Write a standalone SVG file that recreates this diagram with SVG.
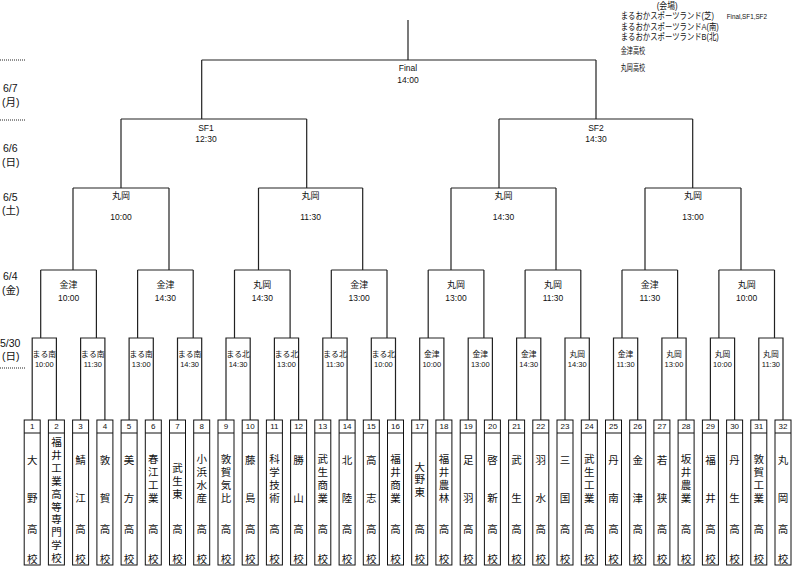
<svg xmlns="http://www.w3.org/2000/svg" width="800" height="577" viewBox="0 0 800 577">
<style>
text{font-family:"Liberation Sans","Noto Sans CJK JP",sans-serif;fill:#111;}
.c{text-anchor:middle;dominant-baseline:central;}
.nm{font-family:"Liberation Sans","Noto Sans CJK JP",sans-serif;font-size:10.5px;text-anchor:middle;dominant-baseline:central;}
.num{font-size:8px;text-anchor:middle;dominant-baseline:central;}
.v1{font-size:7.8px;}
.t1{font-size:7.5px;}
.v2{font-size:9px;}
.t2{font-size:8.5px;}
.date{font-size:10.5px;dominant-baseline:central;}
.leg{font-size:9px;dominant-baseline:central;}
.box{fill:#fff;stroke:#111;stroke-width:1;}
.sep{stroke:#111;stroke-width:1;}
.wire{fill:none;stroke:#222;stroke-width:1.2;}
.dot{stroke:#222;stroke-width:1;stroke-dasharray:1 1;}
</style>
<rect width="800" height="577" fill="#fff"/>

<g id="legend">
<text class="leg" transform="translate(656.7,5.5) scale(0.875,1)">(会場)</text>
<text class="leg" transform="translate(620.7,16) scale(0.82,1)">まるおかスポーツランド(芝)</text>
<text class="leg" x="726.7" y="16" style="font-size:6.3px">Final,SF1,SF2</text>
<text class="leg" transform="translate(620.7,27) scale(0.82,1)">まるおかスポーツランドA(南)</text>
<text class="leg" transform="translate(620.7,37.5) scale(0.82,1)">まるおかスポーツランドB(北)</text>
<text class="leg" transform="translate(620.7,51) scale(0.68,1)">金津高校</text>
<text class="leg" transform="translate(620.7,68.5) scale(0.68,1)">丸岡高校</text>
</g>

<g id="dates">
<line class="dot" x1="0" y1="60" x2="25" y2="60"/>
<line class="dot" x1="0" y1="120" x2="25" y2="120"/>
<line class="dot" x1="0" y1="368" x2="25" y2="368"/>
<text class="date" x="3" y="88">6/7</text>
<text class="date" x="2" y="102">(月)</text>
<text class="date" x="3" y="148">6/6</text>
<text class="date" x="2" y="162">(日)</text>
<text class="date" x="3" y="197">6/5</text>
<text class="date" x="2" y="209.5">(土)</text>
<text class="date" x="3" y="276">6/4</text>
<text class="date" x="2" y="289.5">(金)</text>
<text class="date" x="0" y="343">5/30</text>
<text class="date" x="2" y="356">(日)</text>
</g>

<g id="connectors">
<path class="wire" d="M32.2 420V338H56.4V420M40.7 338V270 M80.6 420V338H104.9V420M96.4 338V270 M129.1 420V338H153.3V420M137.6 338V270 M177.5 420V338H201.7V420M193.2 338V270 M226 420V338H250.2V420M234.5 338V270 M274.4 420V338H298.6V420M290.1 338V270 M322.8 420V338H347.1V420M331.3 338V270 M371.3 420V338H395.5V420M387 338V270 M419.7 420V338H443.9V420M428.2 338V270 M468.2 420V338H492.4V420M483.9 338V270 M516.6 420V338H540.8V420M525.1 338V270 M565 420V338H589.3V420M580.8 338V270 M613.5 420V338H637.7V420M622 338V270 M661.9 420V338H686.1V420M677.6 338V270 M710.4 420V338H734.6V420M718.9 338V270 M758.8 420V338H783V420M774.5 338V270"/>
<path class="wire" d="M40.7 270H96.4M73 270V188 M137.6 270H193.2M169 270V188 M234.5 270H290.1M258.5 270V188 M331.3 270H387M362.7 270V188 M428.2 270H483.9M451 270V188 M525.1 270H580.8M556 270V188 M622 270H677.6M645 270V188 M718.9 270H774.5M741 270V188"/>
<path class="wire" d="M73 188H169M121 188V119 M258.5 188H362.7M306.7 188V119 M451 188H556M499 188V119 M645 188H741M692.7 188V119"/>
<path class="wire" d="M121 119H306.7M201.7 119V60 M499 119H692.7M596 119V60 M201.7 60H596M408 60V20"/>
</g>

<g id="final"><text class="c t2" x="408" y="68">Final</text><text class="c t2" x="408" y="80">14:00</text></g>
<g id="sf1"><text class="c t2" x="206" y="128">SF1</text><text class="c t2" x="206" y="139">12:30</text></g>
<g id="sf2"><text class="c t2" x="596" y="127.5">SF2</text><text class="c t2" x="596" y="138.5">14:30</text></g>

<g id="r3-1"><text class="c v2" x="121" y="196">丸岡</text><text class="c t2" x="121" y="217">10:00</text></g>
<g id="r3-2"><text class="c v2" x="310.6" y="196">丸岡</text><text class="c t2" x="310.6" y="217">11:30</text></g>
<g id="r3-3"><text class="c v2" x="503.5" y="196">丸岡</text><text class="c t2" x="503.5" y="217">14:30</text></g>
<g id="r3-4"><text class="c v2" x="693" y="196">丸岡</text><text class="c t2" x="693" y="217">13:00</text></g>

<g id="r2-1"><text class="c v2" x="68.6" y="285">金津</text><text class="c t2" x="68.6" y="298">10:00</text></g>
<g id="r2-2"><text class="c v2" x="165.4" y="285">金津</text><text class="c t2" x="165.4" y="298">14:30</text></g>
<g id="r2-3"><text class="c v2" x="262.3" y="285">丸岡</text><text class="c t2" x="262.3" y="298">14:30</text></g>
<g id="r2-4"><text class="c v2" x="359.2" y="285">金津</text><text class="c t2" x="359.2" y="298">13:00</text></g>
<g id="r2-5"><text class="c v2" x="456" y="285">丸岡</text><text class="c t2" x="456" y="298">13:00</text></g>
<g id="r2-6"><text class="c v2" x="553" y="285">丸岡</text><text class="c t2" x="553" y="298">11:30</text></g>
<g id="r2-7"><text class="c v2" x="649.8" y="285">金津</text><text class="c t2" x="649.8" y="298">11:30</text></g>
<g id="r2-8"><text class="c v2" x="746.7" y="285">丸岡</text><text class="c t2" x="746.7" y="298">10:00</text></g>

<g id="r1-1"><text class="c v1" x="44.3" y="354">まる南</text><text class="c t1" x="44.3" y="364">10:00</text></g>
<g id="r1-2"><text class="c v1" x="92.8" y="354">まる南</text><text class="c t1" x="92.8" y="364">11:30</text></g>
<g id="r1-3"><text class="c v1" x="141.2" y="354">まる南</text><text class="c t1" x="141.2" y="364">13:00</text></g>
<g id="r1-4"><text class="c v1" x="189.6" y="354">まる南</text><text class="c t1" x="189.6" y="364">14:30</text></g>
<g id="r1-5"><text class="c v1" x="238.1" y="354">まる北</text><text class="c t1" x="238.1" y="364">14:30</text></g>
<g id="r1-6"><text class="c v1" x="286.5" y="354">まる北</text><text class="c t1" x="286.5" y="364">13:00</text></g>
<g id="r1-7"><text class="c v1" x="335" y="354">まる北</text><text class="c t1" x="335" y="364">11:30</text></g>
<g id="r1-8"><text class="c v1" x="383.4" y="354">まる北</text><text class="c t1" x="383.4" y="364">10:00</text></g>
<g id="r1-9"><text class="c v1" x="431.8" y="354">金津</text><text class="c t1" x="431.8" y="364">10:00</text></g>
<g id="r1-10"><text class="c v1" x="480.3" y="354">金津</text><text class="c t1" x="480.3" y="364">13:00</text></g>
<g id="r1-11"><text class="c v1" x="528.7" y="354">金津</text><text class="c t1" x="528.7" y="364">14:30</text></g>
<g id="r1-12"><text class="c v1" x="577.2" y="354">丸岡</text><text class="c t1" x="577.2" y="364">14:30</text></g>
<g id="r1-13"><text class="c v1" x="625.6" y="354">金津</text><text class="c t1" x="625.6" y="364">11:30</text></g>
<g id="r1-14"><text class="c v1" x="674" y="354">丸岡</text><text class="c t1" x="674" y="364">13:00</text></g>
<g id="r1-15"><text class="c v1" x="722.5" y="354">丸岡</text><text class="c t1" x="722.5" y="364">10:00</text></g>
<g id="r1-16"><text class="c v1" x="770.9" y="354">丸岡</text><text class="c t1" x="770.9" y="364">11:30</text></g>

<g id="team-1"><rect class="box" x="24.2" y="420" width="16" height="145"/><line class="sep" x1="24.2" y1="433" x2="40.2" y2="433"/><text class="num" x="32.2" y="426.5">1</text><text class="nm"><tspan x="32.2" y="460">大</tspan><tspan x="32.2" y="498">野</tspan><tspan x="32.2" y="529">高</tspan><tspan x="32.2" y="559">校</tspan></text></g>
<g id="team-2"><rect class="box" x="48.4" y="420" width="16" height="145"/><line class="sep" x1="48.4" y1="433" x2="64.4" y2="433"/><text class="num" x="56.4" y="426.5">2</text><text class="nm"><tspan x="56.4" y="442">福</tspan><tspan x="56.4" y="454.9">井</tspan><tspan x="56.4" y="467.8">工</tspan><tspan x="56.4" y="480.7">業</tspan><tspan x="56.4" y="493.6">高</tspan><tspan x="56.4" y="506.5">等</tspan><tspan x="56.4" y="519.4">専</tspan><tspan x="56.4" y="532.3">門</tspan><tspan x="56.4" y="545.2">学</tspan><tspan x="56.4" y="558.1">校</tspan></text></g>
<g id="team-3"><rect class="box" x="72.6" y="420" width="16" height="145"/><line class="sep" x1="72.6" y1="433" x2="88.6" y2="433"/><text class="num" x="80.6" y="426.5">3</text><text class="nm"><tspan x="80.6" y="460">鯖</tspan><tspan x="80.6" y="498">江</tspan><tspan x="80.6" y="529">高</tspan><tspan x="80.6" y="559">校</tspan></text></g>
<g id="team-4"><rect class="box" x="96.9" y="420" width="16" height="145"/><line class="sep" x1="96.9" y1="433" x2="112.9" y2="433"/><text class="num" x="104.9" y="426.5">4</text><text class="nm"><tspan x="104.9" y="460">敦</tspan><tspan x="104.9" y="498">賀</tspan><tspan x="104.9" y="529">高</tspan><tspan x="104.9" y="559">校</tspan></text></g>
<g id="team-5"><rect class="box" x="121.1" y="420" width="16" height="145"/><line class="sep" x1="121.1" y1="433" x2="137.1" y2="433"/><text class="num" x="129.1" y="426.5">5</text><text class="nm"><tspan x="129.1" y="460">美</tspan><tspan x="129.1" y="498">方</tspan><tspan x="129.1" y="529">高</tspan><tspan x="129.1" y="559">校</tspan></text></g>
<g id="team-6"><rect class="box" x="145.3" y="420" width="16" height="145"/><line class="sep" x1="145.3" y1="433" x2="161.3" y2="433"/><text class="num" x="153.3" y="426.5">6</text><text class="nm"><tspan x="153.3" y="459">春</tspan><tspan x="153.3" y="472">江</tspan><tspan x="153.3" y="485">工</tspan><tspan x="153.3" y="498">業</tspan><tspan x="153.3" y="529">高</tspan><tspan x="153.3" y="559">校</tspan></text></g>
<g id="team-7"><rect class="box" x="169.5" y="420" width="16" height="145"/><line class="sep" x1="169.5" y1="433" x2="185.5" y2="433"/><text class="num" x="177.5" y="426.5">7</text><text class="nm"><tspan x="177.5" y="467.5">武</tspan><tspan x="177.5" y="480.5">生</tspan><tspan x="177.5" y="493.5">東</tspan><tspan x="177.5" y="529">高</tspan><tspan x="177.5" y="559">校</tspan></text></g>
<g id="team-8"><rect class="box" x="193.7" y="420" width="16" height="145"/><line class="sep" x1="193.7" y1="433" x2="209.7" y2="433"/><text class="num" x="201.7" y="426.5">8</text><text class="nm"><tspan x="201.7" y="459">小</tspan><tspan x="201.7" y="472">浜</tspan><tspan x="201.7" y="485">水</tspan><tspan x="201.7" y="498">産</tspan><tspan x="201.7" y="529">高</tspan><tspan x="201.7" y="559">校</tspan></text></g>
<g id="team-9"><rect class="box" x="218" y="420" width="16" height="145"/><line class="sep" x1="218" y1="433" x2="234" y2="433"/><text class="num" x="226" y="426.5">9</text><text class="nm"><tspan x="226" y="459">敦</tspan><tspan x="226" y="472">賀</tspan><tspan x="226" y="485">気</tspan><tspan x="226" y="498">比</tspan><tspan x="226" y="529">高</tspan><tspan x="226" y="559">校</tspan></text></g>
<g id="team-10"><rect class="box" x="242.2" y="420" width="16" height="145"/><line class="sep" x1="242.2" y1="433" x2="258.2" y2="433"/><text class="num" x="250.2" y="426.5">10</text><text class="nm"><tspan x="250.2" y="460">藤</tspan><tspan x="250.2" y="498">島</tspan><tspan x="250.2" y="529">高</tspan><tspan x="250.2" y="559">校</tspan></text></g>
<g id="team-11"><rect class="box" x="266.4" y="420" width="16" height="145"/><line class="sep" x1="266.4" y1="433" x2="282.4" y2="433"/><text class="num" x="274.4" y="426.5">11</text><text class="nm"><tspan x="274.4" y="459">科</tspan><tspan x="274.4" y="472">学</tspan><tspan x="274.4" y="485">技</tspan><tspan x="274.4" y="498">術</tspan><tspan x="274.4" y="529">高</tspan><tspan x="274.4" y="559">校</tspan></text></g>
<g id="team-12"><rect class="box" x="290.6" y="420" width="16" height="145"/><line class="sep" x1="290.6" y1="433" x2="306.6" y2="433"/><text class="num" x="298.6" y="426.5">12</text><text class="nm"><tspan x="298.6" y="460">勝</tspan><tspan x="298.6" y="498">山</tspan><tspan x="298.6" y="529">高</tspan><tspan x="298.6" y="559">校</tspan></text></g>
<g id="team-13"><rect class="box" x="314.8" y="420" width="16" height="145"/><line class="sep" x1="314.8" y1="433" x2="330.8" y2="433"/><text class="num" x="322.8" y="426.5">13</text><text class="nm"><tspan x="322.8" y="459">武</tspan><tspan x="322.8" y="472">生</tspan><tspan x="322.8" y="485">商</tspan><tspan x="322.8" y="498">業</tspan><tspan x="322.8" y="529">高</tspan><tspan x="322.8" y="559">校</tspan></text></g>
<g id="team-14"><rect class="box" x="339.1" y="420" width="16" height="145"/><line class="sep" x1="339.1" y1="433" x2="355.1" y2="433"/><text class="num" x="347.1" y="426.5">14</text><text class="nm"><tspan x="347.1" y="460">北</tspan><tspan x="347.1" y="498">陸</tspan><tspan x="347.1" y="529">高</tspan><tspan x="347.1" y="559">校</tspan></text></g>
<g id="team-15"><rect class="box" x="363.3" y="420" width="16" height="145"/><line class="sep" x1="363.3" y1="433" x2="379.3" y2="433"/><text class="num" x="371.3" y="426.5">15</text><text class="nm"><tspan x="371.3" y="460">高</tspan><tspan x="371.3" y="498">志</tspan><tspan x="371.3" y="529">高</tspan><tspan x="371.3" y="559">校</tspan></text></g>
<g id="team-16"><rect class="box" x="387.5" y="420" width="16" height="145"/><line class="sep" x1="387.5" y1="433" x2="403.5" y2="433"/><text class="num" x="395.5" y="426.5">16</text><text class="nm"><tspan x="395.5" y="459">福</tspan><tspan x="395.5" y="472">井</tspan><tspan x="395.5" y="485">商</tspan><tspan x="395.5" y="498">業</tspan><tspan x="395.5" y="529">高</tspan><tspan x="395.5" y="559">校</tspan></text></g>
<g id="team-17"><rect class="box" x="411.7" y="420" width="16" height="145"/><line class="sep" x1="411.7" y1="433" x2="427.7" y2="433"/><text class="num" x="419.7" y="426.5">17</text><text class="nm"><tspan x="419.7" y="466.5">大</tspan><tspan x="419.7" y="479">野</tspan><tspan x="419.7" y="491.5">東</tspan><tspan x="419.7" y="529">高</tspan><tspan x="419.7" y="559">校</tspan></text></g>
<g id="team-18"><rect class="box" x="435.9" y="420" width="16" height="145"/><line class="sep" x1="435.9" y1="433" x2="451.9" y2="433"/><text class="num" x="443.9" y="426.5">18</text><text class="nm"><tspan x="443.9" y="459">福</tspan><tspan x="443.9" y="472">井</tspan><tspan x="443.9" y="485">農</tspan><tspan x="443.9" y="498">林</tspan><tspan x="443.9" y="529">高</tspan><tspan x="443.9" y="559">校</tspan></text></g>
<g id="team-19"><rect class="box" x="460.2" y="420" width="16" height="145"/><line class="sep" x1="460.2" y1="433" x2="476.2" y2="433"/><text class="num" x="468.2" y="426.5">19</text><text class="nm"><tspan x="468.2" y="460">足</tspan><tspan x="468.2" y="498">羽</tspan><tspan x="468.2" y="529">高</tspan><tspan x="468.2" y="559">校</tspan></text></g>
<g id="team-20"><rect class="box" x="484.4" y="420" width="16" height="145"/><line class="sep" x1="484.4" y1="433" x2="500.4" y2="433"/><text class="num" x="492.4" y="426.5">20</text><text class="nm"><tspan x="492.4" y="460">啓</tspan><tspan x="492.4" y="498">新</tspan><tspan x="492.4" y="529">高</tspan><tspan x="492.4" y="559">校</tspan></text></g>
<g id="team-21"><rect class="box" x="508.6" y="420" width="16" height="145"/><line class="sep" x1="508.6" y1="433" x2="524.6" y2="433"/><text class="num" x="516.6" y="426.5">21</text><text class="nm"><tspan x="516.6" y="460">武</tspan><tspan x="516.6" y="498">生</tspan><tspan x="516.6" y="529">高</tspan><tspan x="516.6" y="559">校</tspan></text></g>
<g id="team-22"><rect class="box" x="532.8" y="420" width="16" height="145"/><line class="sep" x1="532.8" y1="433" x2="548.8" y2="433"/><text class="num" x="540.8" y="426.5">22</text><text class="nm"><tspan x="540.8" y="460">羽</tspan><tspan x="540.8" y="498">水</tspan><tspan x="540.8" y="529">高</tspan><tspan x="540.8" y="559">校</tspan></text></g>
<g id="team-23"><rect class="box" x="557" y="420" width="16" height="145"/><line class="sep" x1="557" y1="433" x2="573" y2="433"/><text class="num" x="565" y="426.5">23</text><text class="nm"><tspan x="565" y="460">三</tspan><tspan x="565" y="498">国</tspan><tspan x="565" y="529">高</tspan><tspan x="565" y="559">校</tspan></text></g>
<g id="team-24"><rect class="box" x="581.3" y="420" width="16" height="145"/><line class="sep" x1="581.3" y1="433" x2="597.3" y2="433"/><text class="num" x="589.3" y="426.5">24</text><text class="nm"><tspan x="589.3" y="459">武</tspan><tspan x="589.3" y="472">生</tspan><tspan x="589.3" y="485">工</tspan><tspan x="589.3" y="498">業</tspan><tspan x="589.3" y="529">高</tspan><tspan x="589.3" y="559">校</tspan></text></g>
<g id="team-25"><rect class="box" x="605.5" y="420" width="16" height="145"/><line class="sep" x1="605.5" y1="433" x2="621.5" y2="433"/><text class="num" x="613.5" y="426.5">25</text><text class="nm"><tspan x="613.5" y="460">丹</tspan><tspan x="613.5" y="498">南</tspan><tspan x="613.5" y="529">高</tspan><tspan x="613.5" y="559">校</tspan></text></g>
<g id="team-26"><rect class="box" x="629.7" y="420" width="16" height="145"/><line class="sep" x1="629.7" y1="433" x2="645.7" y2="433"/><text class="num" x="637.7" y="426.5">26</text><text class="nm"><tspan x="637.7" y="460">金</tspan><tspan x="637.7" y="498">津</tspan><tspan x="637.7" y="529">高</tspan><tspan x="637.7" y="559">校</tspan></text></g>
<g id="team-27"><rect class="box" x="653.9" y="420" width="16" height="145"/><line class="sep" x1="653.9" y1="433" x2="669.9" y2="433"/><text class="num" x="661.9" y="426.5">27</text><text class="nm"><tspan x="661.9" y="460">若</tspan><tspan x="661.9" y="498">狭</tspan><tspan x="661.9" y="529">高</tspan><tspan x="661.9" y="559">校</tspan></text></g>
<g id="team-28"><rect class="box" x="678.1" y="420" width="16" height="145"/><line class="sep" x1="678.1" y1="433" x2="694.1" y2="433"/><text class="num" x="686.1" y="426.5">28</text><text class="nm"><tspan x="686.1" y="459">坂</tspan><tspan x="686.1" y="472">井</tspan><tspan x="686.1" y="485">農</tspan><tspan x="686.1" y="498">業</tspan><tspan x="686.1" y="529">高</tspan><tspan x="686.1" y="559">校</tspan></text></g>
<g id="team-29"><rect class="box" x="702.4" y="420" width="16" height="145"/><line class="sep" x1="702.4" y1="433" x2="718.4" y2="433"/><text class="num" x="710.4" y="426.5">29</text><text class="nm"><tspan x="710.4" y="460">福</tspan><tspan x="710.4" y="498">井</tspan><tspan x="710.4" y="529">高</tspan><tspan x="710.4" y="559">校</tspan></text></g>
<g id="team-30"><rect class="box" x="726.6" y="420" width="16" height="145"/><line class="sep" x1="726.6" y1="433" x2="742.6" y2="433"/><text class="num" x="734.6" y="426.5">30</text><text class="nm"><tspan x="734.6" y="460">丹</tspan><tspan x="734.6" y="498">生</tspan><tspan x="734.6" y="529">高</tspan><tspan x="734.6" y="559">校</tspan></text></g>
<g id="team-31"><rect class="box" x="750.8" y="420" width="16" height="145"/><line class="sep" x1="750.8" y1="433" x2="766.8" y2="433"/><text class="num" x="758.8" y="426.5">31</text><text class="nm"><tspan x="758.8" y="459">敦</tspan><tspan x="758.8" y="472">賀</tspan><tspan x="758.8" y="485">工</tspan><tspan x="758.8" y="498">業</tspan><tspan x="758.8" y="529">高</tspan><tspan x="758.8" y="559">校</tspan></text></g>
<g id="team-32"><rect class="box" x="775" y="420" width="16" height="145"/><line class="sep" x1="775" y1="433" x2="791" y2="433"/><text class="num" x="783" y="426.5">32</text><text class="nm"><tspan x="783" y="460">丸</tspan><tspan x="783" y="498">岡</tspan><tspan x="783" y="529">高</tspan><tspan x="783" y="559">校</tspan></text></g>
</svg>
